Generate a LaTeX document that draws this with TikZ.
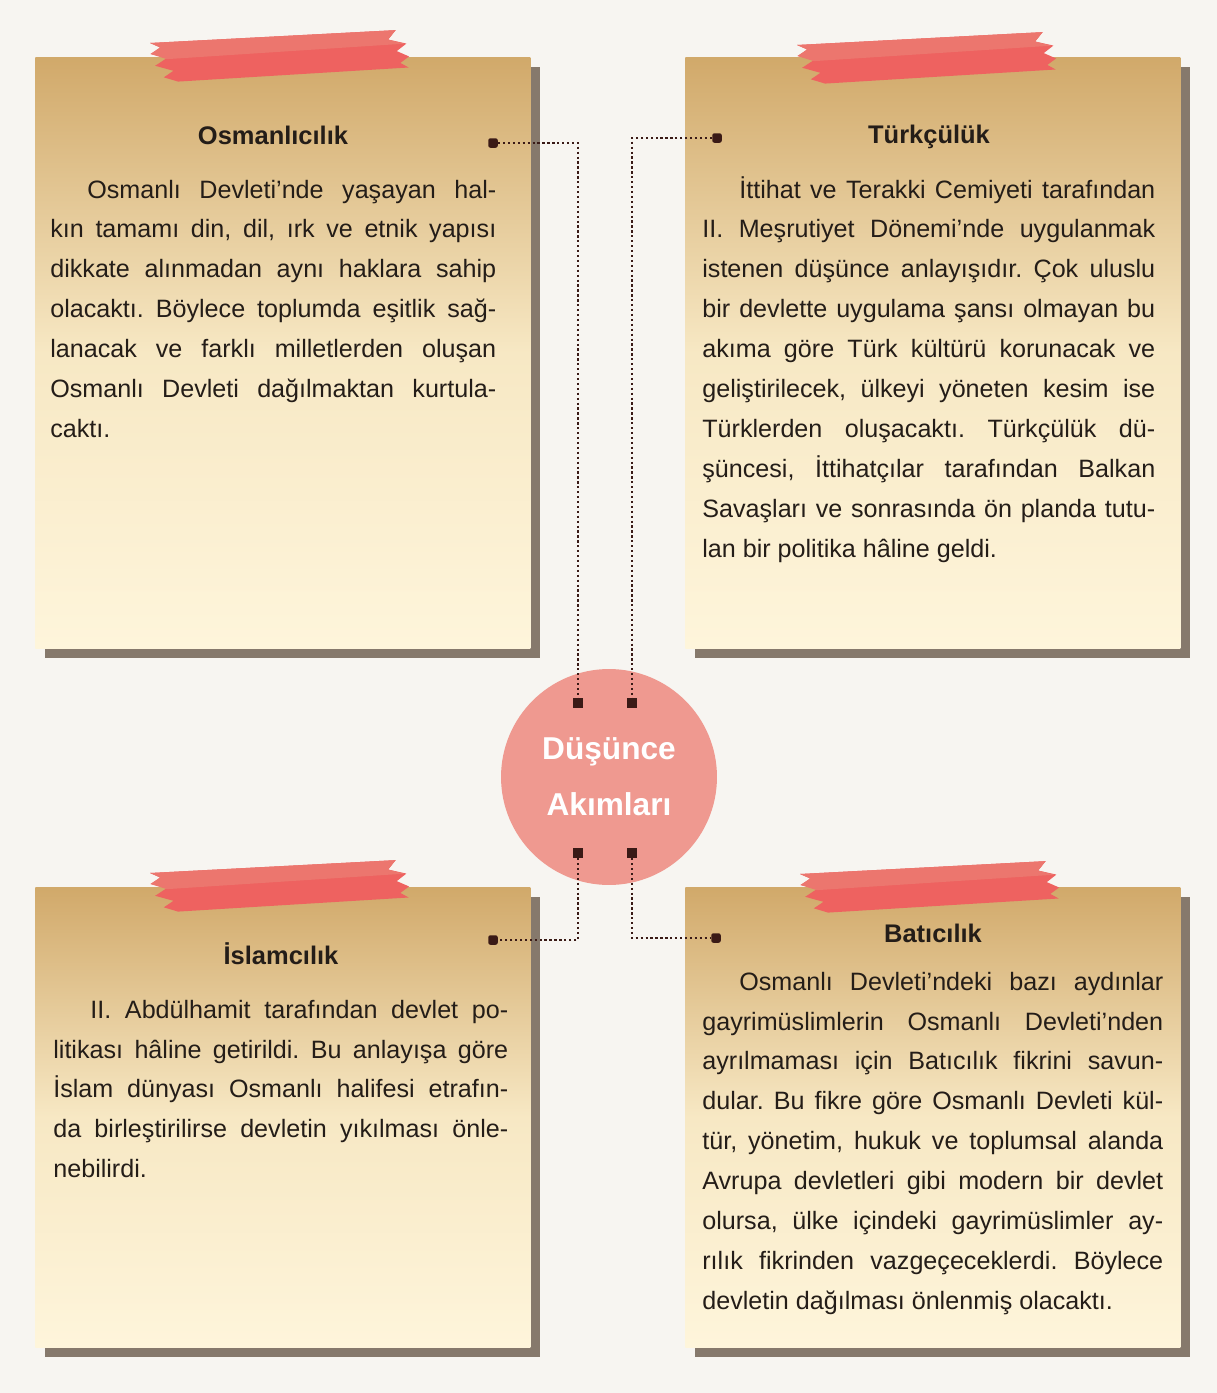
\documentclass[tikz,border=0pt]{standalone}
\usepackage{fontspec}
\setmainfont{Liberation Sans}
\usepackage{xcolor}
\usepackage{tikz}
\usetikzlibrary{positioning,shadows}

\definecolor{zemin}{RGB}{247,245,241}
\definecolor{notust}{RGB}{209,169,106}
\definecolor{notorta}{RGB}{247,232,196}
\definecolor{notalt}{RGB}{254,245,219}
\definecolor{golge}{RGB}{134,121,108}
\definecolor{bant}{RGB}{238,98,96}
\definecolor{bantacik}{RGB}{236,118,110}
\definecolor{merkez}{RGB}{239,153,144}
\definecolor{yazi}{RGB}{36,29,24}
\definecolor{nokta}{RGB}{58,26,22}

\tolerance=10000
\hyphenpenalty=10000
\frenchspacing

\begin{document}
\begin{tikzpicture}[
    x=0.02cm, y=-0.02cm,
    note/.style={rectangle, inner sep=0pt, minimum width=9.9cm, anchor=north west,
        top color=notust, bottom color=notalt, middle color=notorta,
        drop shadow={shadow xshift=0.2cm, shadow yshift=-0.2cm, fill=golge, opacity=1}},
    baslik/.style={font=\fontsize{14.5}{17}\selectfont\bfseries, text=yazi, inner sep=0pt, anchor=base},
    metin/.style={font=\fontsize{14.3}{22.76}\selectfont, text=yazi, inner sep=0pt, align=justify, anchor=base west},
    uc/.style={rectangle, fill=nokta, minimum size=0.19cm, inner sep=0pt},
    link/.style={nokta, line width=1.4pt, dash pattern=on 1.3pt off 1.5pt}
]
\useasboundingbox (0,0) rectangle (1217,1393);
\fill[zemin] (0,0) rectangle (1217,1393);

% Notlar
\node[note, minimum height=11.82cm] (osm) at (35,57) {};
\node[note, minimum height=11.82cm] (turk) at (685,57) {};
\node[note, minimum height=9.2cm] (isl) at (35,887) {};
\node[note, minimum height=9.2cm] (bati) at (685,887) {};

% Bantlar
\foreach \bx/\by in {150/43, 797/45, 150/873, 800/874}{
  \begin{scope}[shift={(\bx,\by)}, rotate=3]
    \fill[bant] (0,0) -- (246,0) -- (238,9) -- (256,14) -- (246,21) -- (258,27) -- (249,33) -- (257,38)
      -- (26,40) -- (12,35) -- (22,29) -- (4,23) -- (16,16) -- (0,11) -- (10,5) -- cycle;
    \fill[bantacik] (0,0) -- (246,0) -- (238,9) -- (254,14) -- (16,17) -- (0,11) -- (10,5) -- cycle;
  \end{scope}
}

% Basliklar
\node[baslik] (osmbas) at (273,144) {Osmanlıcılık};
\node[baslik] (turkbas) at (929,143) {Türkçülük};
\node[baslik] (islbas) at (281,964) {İslamcılık};
\node[baslik] (batibas) at (933,942) {Batıcılık};

% Metinler
\node[metin, text width=8.92cm] (osmmetin) at (50,198) {\hspace*{0.74cm}Osmanlı Devleti’nde yaşayan hal-\linebreak
  kın tamamı din, dil, ırk ve etnik yapısı\linebreak
  dikkate alınmadan aynı haklara sahip\linebreak
  olacaktı. Böylece toplumda eşitlik sağ-\linebreak
  lanacak ve farklı milletlerden oluşan\linebreak
  Osmanlı Devleti dağılmaktan kurtula-\linebreak
  caktı.};
\node[metin, text width=9.06cm] (turkmetin) at (702,198) {\hspace*{0.74cm}İttihat ve Terakki Cemiyeti tarafından\linebreak
  II. Meşrutiyet Dönemi’nde uygulanmak\linebreak
  istenen düşünce anlayışıdır. Çok uluslu\linebreak
  bir devlette uygulama şansı olmayan bu\linebreak
  akıma göre Türk kültürü korunacak ve\linebreak
  geliştirilecek, ülkeyi yöneten kesim ise\linebreak
  Türklerden oluşacaktı. Türkçülük dü-\linebreak
  şüncesi, İttihatçılar tarafından Balkan\linebreak
  Savaşları ve sonrasında ön planda tutu-\linebreak
  lan bir politika hâline geldi.};
\node[metin, text width=9.1cm] (islmetin) at (53,1018) {\hspace*{0.74cm}II. Abdülhamit tarafından devlet po-\linebreak
  litikası hâline getirildi. Bu anlayışa göre\linebreak
  İslam dünyası Osmanlı halifesi etrafın-\linebreak
  da birleştirilirse devletin yıkılması önle-\linebreak
  nebilirdi.};
\node[metin, text width=9.22cm] (batimetin) at (702,990) {\hspace*{0.74cm}Osmanlı Devleti’ndeki bazı aydınlar\linebreak
  gayrimüslimlerin Osmanlı Devleti’nden\linebreak
  ayrılmaması için Batıcılık fikrini savun-\linebreak
  dular. Bu fikre göre Osmanlı Devleti kül-\linebreak
  tür, yönetim, hukuk ve toplumsal alanda\linebreak
  Avrupa devletleri gibi modern bir devlet\linebreak
  olursa, ülke içindeki gayrimüslimler ay-\linebreak
  rılık fikrinden vazgeçeceklerdi. Böylece\linebreak
  devletin dağılması önlenmiş olacaktı.};

% Merkez
\node[circle, fill=merkez, minimum size=4.32cm, inner sep=0pt, text=white,
  font=\fontsize{18}{31.9}\selectfont\bfseries, align=center] (hub) at (609,777) {Düşünce\\Akımları};

% Uclar
\node[uc, rounded corners=1.2pt] (osmuc) at (493,143) {};
\node[uc, rounded corners=1.2pt] (turkuc) at (717,138) {};
\node[uc, rounded corners=1.2pt] (isluc) at (493,940) {};
\node[uc, rounded corners=1.2pt] (batiuc) at (716,938) {};
\node[uc] (hubosm) at (578,703) {};
\node[uc] (hubturk) at (632,703) {};
\node[uc] (hubisl) at (578,853) {};
\node[uc] (hubbati) at (632,853) {};

% Baglantilar
\draw[link] (osmuc) -| (hubosm);
\draw[link] (turkuc) -| (hubturk);
\draw[link] (hubisl) |- (isluc);
\draw[link] (hubbati) |- (batiuc);

\end{tikzpicture}
\end{document}
